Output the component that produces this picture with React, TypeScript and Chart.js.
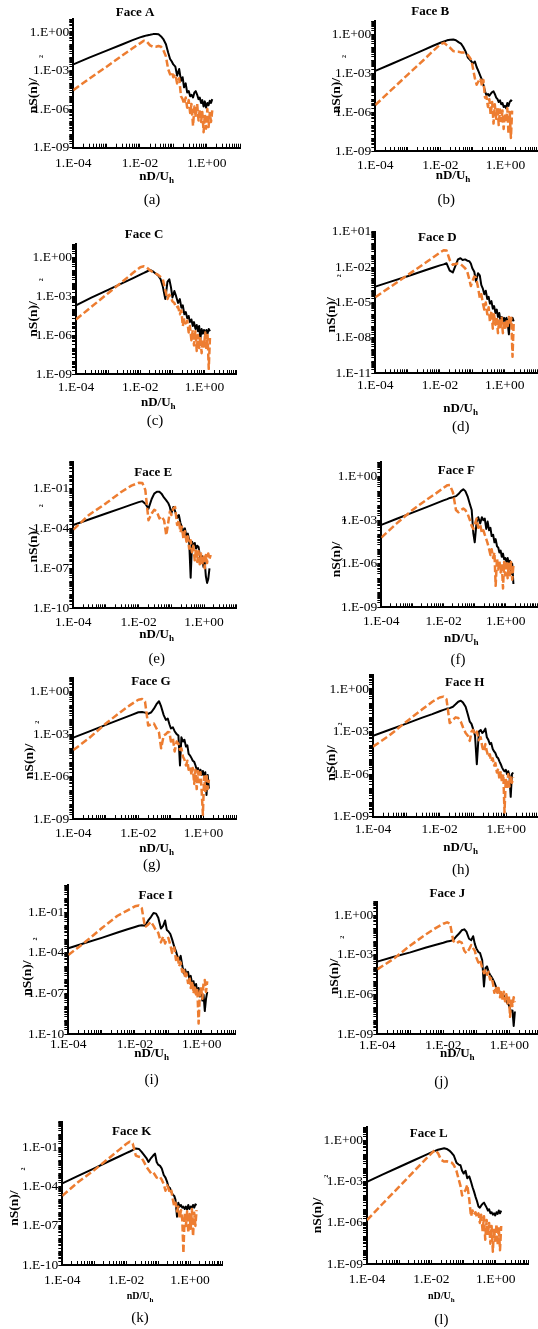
import React, { useEffect, useRef } from "react";
import { Chart, registerables } from "chart.js";

Chart.register(...registerables);

// Reduced frequency nD/Uh, shared by all twelve faces
const FREQ = [1e-4, 3e-4, 1e-3, 3e-3, 0.006, 0.01, 0.013, 0.016, 0.02, 0.025, 0.03, 0.036, 0.043, 0.05, 0.06, 0.07, 0.08, 0.09, 0.1, 0.115, 0.13, 0.15, 0.17, 0.19, 0.21, 0.235, 0.26, 0.29, 0.32, 0.35, 0.39, 0.43, 0.47, 0.52, 0.57, 0.62, 0.68, 0.74, 0.81, 0.88, 0.96, 1.05, 1.14, 1.24, 1.35, 1.47, 1.6, 1.75, 1.9];

// Normalised spectra nS(n)/sigma^2 : black solid and orange dashed series
const FACE_A_BLACK = [3e-3, 0.01, 0.035, 0.11, 0.23, 0.38, 0.47, 0.54, 0.6, 0.68, 0.69, 0.66, 0.45, 0.28, 0.11, 0.025, 8e-3, 5e-3, 3e-3, 2e-3, 4e-4, 1.3e-3, 1.6e-4, 3e-4, 5e-5, 1e-4, 2e-5, 2.5e-5, 1e-5, 1.3e-5, 8e-6, 2e-5, 2.5e-5, 1.3e-5, 6e-6, 8e-6, 3e-6, 5e-6, 1.6e-6, 4e-6, 1.3e-6, 3e-6, 2e-6, 4.5e-6, 3e-6, 6e-6];
const FACE_A_ORANGE = [3e-5, 2.3e-4, 2e-3, 0.0155, 0.054, 0.13, 0.21, 0.18, 0.09, 0.07, 0.07, 0.08, 0.07, 0.04, 0.0126, 1.3e-3, 5e-4, 8e-4, 3e-4, 5e-4, 1e-4, 2.5e-4, 1e-5, 6e-6, 2.5e-6, 8e-6, 1.3e-6, 5e-6, 5e-7, 2.5e-6, 5e-8, 1.6e-6, 2.5e-7, 2.5e-6, 1.3e-7, 1e-6, 1e-7, 6e-7, 1.6e-8, 4e-7, 3e-8, 1e-6, 4e-8, 5e-7, 1e-7, 8e-7];

const FACE_B_BLACK = [1.5e-3, 4.9e-3, 0.018, 0.06, 0.13, 0.22, 0.28, 0.34, 0.38, 0.4, 0.35, 0.25, 0.19, 0.11, 0.045, 0.016, 0.011, 8e-3, 5.6e-3, 8e-3, 3e-3, 1.3e-3, 6e-4, 3e-4, 1.3e-4, 4e-5, 2e-5, 2.5e-5, 1.8e-5, 2.5e-5, 3.5e-5, 4e-5, 2.5e-5, 1.3e-5, 1e-5, 6e-6, 8e-6, 4e-6, 5e-6, 2.5e-6, 3e-6, 2e-6, 5e-6, 3e-6, 6e-6, 8e-6, 7e-6];
const FACE_B_ORANGE = [3.5e-6, 4.7e-5, 7.8e-4, 0.01, 0.052, 0.17, 0.22, 0.14, 0.09, 0.05, 0.045, 0.045, 0.04, 0.04, 0.035, 0.025, 0.016, 0.01, 2.5e-3, 4e-4, 1.3e-4, 2.5e-4, 4e-4, 1e-4, 3e-4, 1.3e-5, 1.6e-5, 2.5e-6, 1e-5, 6e-7, 6e-6, 1.3e-7, 4e-6, 3e-7, 2.5e-6, 1e-7, 1.6e-6, 2e-7, 1.3e-6, 5e-8, 8e-7, 1.6e-7, 2e-6, 2e-8, 1e-6, 1e-8, 1.3e-6];

const FACE_C_BLACK = [2e-4, 7.6e-4, 3.1e-3, 0.011, 0.025, 0.046, 0.062, 0.08, 0.105, 0.08, 0.056, 0.04, 0.02, 6e-3, 6e-4, 0.0126, 0.02, 5e-3, 8e-4, 2.5e-3, 1e-3, 3e-4, 6e-4, 1.3e-4, 2e-4, 4e-5, 6e-5, 2e-5, 3e-5, 1e-5, 1.6e-5, 5e-6, 1e-5, 3e-6, 6e-6, 2e-6, 5e-6, 5e-7, 3e-6, 1.3e-6, 2.5e-6, 1e-6, 2.5e-6, 1.3e-6, 3e-6, 2e-6];
const FACE_C_ORANGE = [1.6e-5, 1.5e-4, 1.7e-3, 0.0155, 0.063, 0.17, 0.2, 0.16, 0.1, 0.07, 0.056, 0.044, 0.03, 0.022, 3e-3, 6e-4, 1.3e-3, 8e-4, 4e-4, 3e-4, 1.3e-4, 1.6e-4, 4e-5, 8e-5, 5e-6, 1.6e-5, 8e-6, 1.3e-5, 1.6e-6, 5e-6, 4e-7, 2.5e-6, 1.6e-7, 2e-6, 6e-8, 1e-6, 1e-7, 8e-7, 4e-8, 5e-7, 1.3e-7, 1.6e-6, 8e-8, 1e-6, 2.5e-9, 6e-7];

const FACE_D_BLACK = [2.2e-4, 5.9e-4, 1.7e-3, 4.7e-3, 8.7e-3, 0.014, 0.017, 0.021, 5e-3, 3.5e-3, 0.0126, 0.045, 0.056, 0.04, 0.045, 0.035, 0.032, 0.02, 8e-3, 4e-3, 6e-4, 3e-3, 2e-3, 3e-4, 1.6e-4, 5e-5, 1e-4, 2e-5, 3e-5, 8e-6, 1.3e-5, 3e-6, 5e-6, 1.3e-6, 2.5e-6, 6e-7, 1.3e-6, 3e-7, 6e-7, 2.5e-7, 5e-7, 2.5e-7, 5e-7, 2e-7, 2e-8, 4e-7, 3e-7, 5e-7, 2.5e-7];
const FACE_D_ORANGE = [2.8e-5, 2.2e-4, 2.1e-3, 0.017, 0.063, 0.17, 0.27, 0.25, 0.04, 0.016, 0.018, 0.02, 0.018, 0.0126, 8e-3, 4e-3, 1e-3, 2.5e-4, 6e-4, 1.6e-3, 1.3e-3, 2e-4, 2.5e-5, 5e-5, 1e-5, 2.5e-6, 1e-5, 1e-6, 4e-6, 2.5e-7, 2e-6, 6e-8, 1e-6, 1.3e-7, 6e-7, 2.5e-8, 4e-7, 6e-8, 5e-7, 2.5e-8, 3e-7, 5e-8, 2.5e-7, 1e-7, 6e-7, 1.3e-7, 5e-7, 2.5e-10, 1.6e-7];

const FACE_E_BLACK = [1.8e-4, 4.6e-4, 1.3e-3, 3.3e-3, 6e-3, 9.3e-3, 0.011, 7e-3, 3e-3, 0.016, 0.04, 0.056, 0.056, 0.04, 0.02, 0.0126, 8e-3, 4e-3, 1.3e-3, 4e-3, 2e-3, 6e-4, 1e-3, 2.5e-4, 1.3e-4, 6e-5, 1e-4, 2.5e-5, 4e-5, 1.3e-5, 2e-8, 1e-5, 5e-6, 8e-6, 3e-6, 5e-6, 4e-6, 1e-6, 4e-7, 8e-7, 1.3e-7, 3e-7, 2.5e-8, 8e-9, 1.6e-8, 1e-7];
const FACE_E_ORANGE = [8e-5, 1e-3, 7.5e-3, 0.056, 0.16, 0.26, 0.25, 0.075, 4e-4, 1.3e-3, 2.5e-3, 1.8e-3, 5.6e-4, 8e-4, 4e-4, 3e-5, 2.5e-4, 1.8e-3, 1e-3, 3e-3, 4e-3, 1.8e-4, 4e-4, 5e-5, 1.3e-4, 1.6e-5, 6e-5, 1e-5, 2.5e-5, 3e-6, 1.3e-5, 1.6e-6, 5e-6, 4e-7, 3e-6, 3e-7, 2e-6, 2e-7, 1.3e-6, 1.6e-7, 1e-6, 1e-7, 1e-6, 2.5e-7, 1.3e-6, 5e-7, 1e-6];

const FACE_F_BLACK = [4.7e-4, 1.2e-3, 3.3e-3, 8.3e-3, 0.015, 0.023, 0.028, 0.034, 0.038, 0.045, 0.063, 0.1, 0.135, 0.1, 0.04, 0.0126, 5e-3, 1.3e-4, 3e-5, 8e-4, 1.6e-3, 6e-4, 1.6e-3, 1e-3, 1.3e-3, 2.5e-4, 8e-4, 2e-4, 3e-4, 8e-5, 1e-4, 3e-5, 5e-5, 1.6e-5, 1.3e-5, 6e-6, 8e-6, 3e-6, 5e-6, 2e-6, 2.5e-6, 1.3e-6, 2.5e-6, 1e-6, 1.6e-6, 2e-7, 1e-6, 4e-8];
const FACE_F_ORANGE = [6.3e-5, 5.6e-4, 5e-3, 0.028, 0.076, 0.17, 0.25, 0.26, 0.08, 5e-3, 3.5e-3, 5e-3, 6.3e-3, 5e-3, 2.5e-3, 1e-3, 4e-4, 2.5e-4, 5e-4, 1.3e-3, 3e-4, 5e-4, 1.3e-4, 2e-4, 1e-4, 5e-5, 2.5e-5, 1e-5, 4e-6, 1e-5, 2.5e-6, 6e-6, 3e-8, 2.5e-6, 4e-7, 1.6e-6, 2.5e-7, 1e-6, 2e-8, 1.3e-6, 1.6e-7, 1.6e-6, 1e-7, 1e-6, 1.6e-7, 1.3e-6, 8e-8, 8e-7];

const FACE_G_BLACK = [5.6e-4, 1.5e-3, 4.5e-3, 0.012, 0.022, 0.035, 0.036, 0.033, 0.027, 0.035, 0.063, 0.13, 0.21, 0.09, 0.022, 0.01, 0.0126, 5e-3, 2.5e-3, 3e-3, 1.6e-3, 1e-3, 8e-4, 6e-6, 6e-4, 3e-4, 4e-4, 1.3e-4, 1.6e-4, 4e-5, 3e-5, 2e-5, 1.3e-5, 1.1e-5, 6e-6, 3e-6, 4e-6, 1.6e-6, 3e-6, 1.3e-6, 2.5e-6, 1e-6, 2e-6, 5e-8, 1.3e-6, 1.4e-7];
const FACE_G_ORANGE = [7.4e-5, 5e-4, 5.6e-3, 0.04, 0.126, 0.27, 0.3, 0.2, 4e-3, 5e-3, 5.6e-3, 2.5e-3, 1.3e-3, 1e-4, 8e-4, 1e-3, 1.4e-3, 1.3e-3, 3e-4, 5e-4, 6e-5, 3e-4, 2e-4, 8e-5, 1e-4, 2.5e-5, 1.6e-5, 6e-6, 1.3e-5, 3e-6, 5e-6, 1.3e-6, 4e-6, 3e-7, 3e-6, 1.3e-7, 2.5e-6, 4e-7, 2e-6, 1e-7, 2e-9, 1e-6, 8e-8, 1.6e-6, 1.3e-7, 6e-7];

const FACE_H_BLACK = [5e-4, 1.3e-3, 3.6e-3, 9.5e-3, 0.017, 0.027, 0.034, 0.04, 0.045, 0.056, 0.083, 0.126, 0.15, 0.11, 0.056, 0.016, 5e-3, 3.5e-3, 1.6e-3, 5e-4, 5e-6, 1e-3, 1.3e-3, 8e-4, 1e-3, 1.6e-3, 4e-4, 2.5e-4, 1.3e-4, 1.6e-4, 6e-5, 4e-5, 3e-5, 1.6e-5, 1.3e-5, 8e-6, 5e-6, 3e-6, 2e-6, 1.6e-6, 2e-6, 1e-6, 1.6e-6, 8e-7, 2.5e-8, 1e-6, 1.3e-6];
const FACE_H_ORANGE = [8.7e-5, 5e-4, 5e-3, 0.037, 0.126, 0.25, 0.29, 0.19, 4e-3, 6.6e-3, 0.01, 9e-3, 5e-3, 2e-3, 8e-4, 5e-4, 2.2e-4, 1e-3, 1.3e-3, 6e-4, 1e-3, 2.5e-4, 4e-4, 8e-5, 4e-5, 1.3e-4, 4e-5, 1.6e-5, 2.5e-5, 8e-6, 1.3e-5, 4e-6, 6e-6, 1.3e-6, 2.5e-6, 4e-7, 1.6e-6, 2.5e-7, 1e-6, 2e-9, 5e-7, 1e-7, 1e-6, 1.3e-7, 8e-7, 2.5e-7, 6e-7];

const FACE_I_BLACK = [2.2e-4, 5.2e-4, 1.3e-3, 3.2e-3, 5.6e-3, 8.3e-3, 0.0102, 0.011, 0.01, 0.025, 0.045, 0.09, 0.08, 0.04, 6.3e-3, 0.01, 0.025, 5e-3, 4e-3, 2.5e-3, 1e-3, 3e-4, 1.3e-4, 5e-5, 3e-5, 6e-5, 1.3e-5, 3e-6, 6e-6, 2.5e-6, 4e-6, 1e-6, 2e-6, 5e-7, 8e-7, 2e-7, 5e-7, 1e-7, 2.5e-7, 6e-8, 1.3e-7, 3e-8, 8e-8, 5e-9, 4e-8, 1.3e-7];
const FACE_I_ORANGE = [7e-5, 5.6e-4, 6.6e-3, 0.056, 0.14, 0.28, 0.32, 0.2, 8e-3, 0.0126, 0.02, 0.01, 4.5e-3, 3e-3, 6e-4, 1.6e-3, 5e-4, 1e-3, 1.3e-3, 4e-4, 1e-4, 2.5e-4, 3e-5, 6e-5, 1e-5, 2e-5, 4e-6, 8e-6, 1.3e-6, 3e-6, 6e-7, 1.6e-6, 2.5e-7, 8e-7, 1e-7, 4e-7, 6e-8, 2.5e-7, 6e-10, 1e-7, 3e-7, 4e-8, 6e-7, 1e-6, 1.3e-7, 8e-7];

const FACE_J_BLACK = [3e-4, 6.6e-4, 1.5e-3, 3.5e-3, 5.6e-3, 8e-3, 9.8e-3, 0.011, 0.0126, 0.025, 0.04, 0.07, 0.083, 0.056, 0.016, 0.0126, 0.025, 6.3e-3, 3e-3, 1.6e-3, 1.3e-3, 4e-4, 4e-6, 1e-4, 1.3e-4, 5e-5, 3e-5, 2e-5, 1.3e-5, 8e-6, 4e-6, 2e-6, 2.5e-6, 1.3e-6, 1e-6, 6e-7, 8e-7, 4e-7, 3e-7, 2e-7, 1.6e-7, 8e-8, 5e-8, 6e-8, 4e-9, 5e-8];
const FACE_J_ORANGE = [7.8e-5, 4.5e-4, 5e-3, 0.035, 0.107, 0.22, 0.28, 0.22, 0.011, 7e-3, 0.01, 8e-3, 2e-3, 1.3e-3, 2.5e-3, 5.4e-3, 3e-3, 2e-3, 6e-4, 2.5e-4, 4e-4, 1e-4, 4e-5, 8e-5, 3e-5, 5e-5, 1.3e-5, 2e-5, 6e-6, 1.3e-6, 4e-6, 1.3e-6, 3e-6, 6e-7, 2e-6, 4e-7, 1.6e-6, 3e-7, 1e-6, 2e-7, 8e-7, 2e-8, 5e-7, 1.3e-7, 6e-7, 2.5e-7];

const FACE_K_BLACK = [1.8e-4, 6.6e-4, 2.6e-3, 9.5e-3, 0.021, 0.038, 0.051, 0.066, 0.087, 0.08, 0.05, 0.028, 0.016, 8e-3, 0.016, 0.025, 0.035, 8e-3, 5e-3, 4e-3, 2.5e-3, 8e-4, 5e-4, 2.5e-4, 1e-4, 8e-5, 4e-5, 2.5e-5, 2e-5, 1e-5, 5e-7, 6e-6, 3e-6, 4e-6, 2.5e-6, 3e-6, 2e-6, 3e-6, 1.8e-6, 4e-6, 2e-6, 3e-6, 2.5e-6, 4e-6, 2.5e-6, 4.5e-6, 4e-6];
const FACE_K_ORANGE = [2e-5, 2.1e-4, 1.9e-3, 0.017, 0.068, 0.19, 0.29, 0.21, 0.025, 0.02, 0.018, 8e-3, 3.5e-3, 2e-3, 1.1e-3, 1.3e-3, 8e-4, 5e-4, 4.5e-4, 5.6e-4, 3.5e-4, 1.6e-4, 5e-5, 1.3e-4, 8e-5, 3e-5, 5e-5, 1e-5, 3e-6, 6e-6, 1.3e-6, 3e-6, 4e-7, 1.6e-6, 3e-7, 8e-10, 1e-6, 1e-7, 1.3e-6, 3e-8, 8e-7, 6e-8, 2e-6, 1.6e-8, 1e-6, 1e-7, 1.6e-6];

const FACE_L_BLACK = [1e-3, 3.3e-3, 0.012, 0.039, 0.081, 0.14, 0.18, 0.22, 0.25, 0.28, 0.25, 0.19, 0.126, 0.08, 0.025, 0.018, 0.016, 6.3e-3, 4e-3, 6.3e-3, 1.8e-3, 2.5e-3, 1e-3, 4e-4, 2e-4, 8e-5, 4e-5, 1.6e-5, 1.3e-5, 1.8e-5, 2.5e-5, 3e-5, 2e-5, 1.3e-5, 8e-6, 1e-5, 5e-6, 6e-6, 4e-6, 5e-6, 3.5e-6, 6e-6, 4.5e-6, 8e-6, 5e-6, 8e-6];
const FACE_L_ORANGE = [1.6e-6, 2.4e-5, 4.4e-4, 6.5e-3, 0.035, 0.12, 0.21, 0.126, 0.04, 0.03, 0.032, 0.03, 0.025, 0.016, 6.3e-3, 1.6e-3, 5e-4, 1e-4, 1.6e-4, 2.5e-4, 6e-4, 5e-5, 3e-6, 8e-6, 4e-6, 6e-6, 2.5e-6, 5e-6, 1e-6, 4e-6, 2.5e-7, 3e-6, 6e-8, 1.6e-6, 1.3e-7, 1e-6, 3e-8, 6e-7, 8e-9, 4e-7, 5e-8, 8e-7, 2.5e-8, 5e-7, 1e-8, 6e-7];

const X_TICK_LABELS = ["1.E-04", "1.E-02", "1.E+00"];
const Y_TICK_LABELS_9 = ["1.E+00", "1.E-03", "1.E-06", "1.E-09"];
const Y_TICK_LABELS_10 = ["1.E-01", "1.E-04", "1.E-07", "1.E-10"];
const Y_TICK_LABELS_11 = ["1.E+01", "1.E-02", "1.E-05", "1.E-08", "1.E-11"];
const X_MIN = 1e-4;
const X_MAX = 10;
const Y_MAX = 10;

const FONT = "'Liberation Serif', 'Times New Roman', Times, serif";
const ORANGE = "#ED7D31";

type PanelCfg = {
  face: string;
  caption: string;
  black: number[];
  orange: number[];
  yMin: number;
  yLabels: string[];
  colX: number;
  area: [number, number, number, number];
  titleAt: [number, number];
  yTitleAt: [number, number];
  xTitleAt: [number, number];
  captionAt: [number, number];
  xTickGap: number;
  xTitleSize: number;
};

const PANELS: PanelCfg[] = [
  { face: "A", caption: "(a)", black: FACE_A_BLACK, orange: FACE_A_ORANGE, yMin: 1e-9, yLabels: Y_TICK_LABELS_9, colX: 0, area: [73.3, 19.1, 240, 147.7], titleAt: [135, 12.3], yTitleAt: [33.3, 84.2], xTitleAt: [156.7, 176.7], captionAt: [152, 200], xTickGap: 15.7, xTitleSize: 13 },
  { face: "B", caption: "(b)", black: FACE_B_BLACK, orange: FACE_B_ORANGE, yMin: 1e-9, yLabels: Y_TICK_LABELS_9, colX: 268, area: [375.3, 21.3, 538, 151], titleAt: [430.3, 11.7], yTitleAt: [336.3, 84.2], xTitleAt: [453, 175.7], captionAt: [446.3, 200], xTickGap: 14.7, xTitleSize: 13 },
  { face: "C", caption: "(c)", black: FACE_C_BLACK, orange: FACE_C_ORANGE, yMin: 1e-9, yLabels: Y_TICK_LABELS_9, colX: 0, area: [76, 244.3, 236.7, 374], titleAt: [144, 235], yTitleAt: [33.3, 307.5], xTitleAt: [158.3, 402.7], captionAt: [155, 420.7], xTickGap: 13.7, xTitleSize: 13 },
  { face: "D", caption: "(d)", black: FACE_D_BLACK, orange: FACE_D_ORANGE, yMin: 1e-11, yLabels: Y_TICK_LABELS_11, colX: 268, area: [375.3, 231.7, 537, 373.3], titleAt: [437.3, 237.3], yTitleAt: [331.3, 303.3], xTitleAt: [460.7, 408.3], captionAt: [460.7, 427.3], xTickGap: 12.3, xTitleSize: 13 },
  { face: "E", caption: "(e)", black: FACE_E_BLACK, orange: FACE_E_ORANGE, yMin: 1e-10, yLabels: Y_TICK_LABELS_10, colX: 0, area: [73.3, 461.7, 236.7, 608.3], titleAt: [153.3, 472.3], yTitleAt: [33.3, 533.3], xTitleAt: [156.7, 635], captionAt: [156.7, 659.3], xTickGap: 14.3, xTitleSize: 13 },
  { face: "F", caption: "(f)", black: FACE_F_BLACK, orange: FACE_F_ORANGE, yMin: 1e-9, yLabels: Y_TICK_LABELS_9, colX: 268, area: [381.3, 462.1, 537, 607.3], titleAt: [456.3, 470.7], yTitleAt: [336.3, 548], xTitleAt: [461.3, 638.3], captionAt: [458, 660], xTickGap: 14.3, xTitleSize: 13 },
  { face: "G", caption: "(g)", black: FACE_G_BLACK, orange: FACE_G_ORANGE, yMin: 1e-9, yLabels: Y_TICK_LABELS_9, colX: 0, area: [73.3, 677.5, 236, 819], titleAt: [151, 681.7], yTitleAt: [29.3, 750], xTitleAt: [156.7, 848.3], captionAt: [151.7, 865], xTickGap: 14.3, xTitleSize: 13 },
  { face: "H", caption: "(h)", black: FACE_H_BLACK, orange: FACE_H_ORANGE, yMin: 1e-9, yLabels: Y_TICK_LABELS_9, colX: 268, area: [373, 674.8, 539.7, 816.7], titleAt: [464.7, 682.3], yTitleAt: [332, 751.7], xTitleAt: [460.7, 847.7], captionAt: [460.7, 870], xTickGap: 12.7, xTitleSize: 13 },
  { face: "I", caption: "(i)", black: FACE_I_BLACK, orange: FACE_I_ORANGE, yMin: 1e-10, yLabels: Y_TICK_LABELS_10, colX: 0, area: [68.3, 885.3, 235, 1034], titleAt: [155.7, 895.7], yTitleAt: [27.3, 966.7], xTitleAt: [151.7, 1053.3], captionAt: [151.7, 1080], xTickGap: 10.3, xTitleSize: 13 },
  { face: "J", caption: "(j)", black: FACE_J_BLACK, orange: FACE_J_ORANGE, yMin: 1e-9, yLabels: Y_TICK_LABELS_9, colX: 268, area: [377.3, 901.8, 544, 1034], titleAt: [447.3, 893.3], yTitleAt: [334.7, 965], xTitleAt: [457.3, 1053.3], captionAt: [441.3, 1081.7], xTickGap: 11.7, xTitleSize: 13 },
  { face: "K", caption: "(k)", black: FACE_K_BLACK, orange: FACE_K_ORANGE, yMin: 1e-10, yLabels: Y_TICK_LABELS_10, colX: 0, area: [62.3, 1121.6, 222, 1265], titleAt: [131.7, 1131.7], yTitleAt: [15, 1196.7], xTitleAt: [140, 1296.7], captionAt: [140, 1318.3], xTickGap: 15, xTitleSize: 10 },
  { face: "L", caption: "(l)", black: FACE_L_BLACK, orange: FACE_L_ORANGE, yMin: 1e-9, yLabels: Y_TICK_LABELS_9, colX: 268, area: [367, 1127, 528, 1264], titleAt: [428.7, 1134], yTitleAt: [318, 1204], xTitleAt: [441.3, 1296.7], captionAt: [441.3, 1320], xTickGap: 15, xTitleSize: 10 },
];

function logTickValues(min: number, max: number): number[] {
  const out: number[] = [];
  const e0 = Math.round(Math.log10(min));
  const e1 = Math.round(Math.log10(max));
  for (let e = e0; e < e1; e++) {
    for (let k = 1; k < 10; k++) out.push(Number((k * Math.pow(10, e)).toPrecision(6)));
  }
  out.push(max);
  return out;
}

function labelFor(labels: string[], v: number): string {
  const hit = labels.find((l) => Math.abs(Number(l) / v - 1) < 1e-6);
  return hit ?? "";
}

function geom(p: PanelCfg) {
  const cl = p.colX;
  const ct = Math.round(Math.min(p.area[1] - 22, p.titleAt[1] - 10));
  const cw = p.colX === 0 ? 262 : 282;
  const ch = Math.ceil(p.captionAt[1] + 12 - ct);
  return { cl, ct, cw, ch };
}

function makeTextPlugin(p: PanelCfg, cl: number, ct: number) {
  return {
    id: "faceText" + p.face,
    afterDraw(chart: any) {
      const ctx: CanvasRenderingContext2D = chart.ctx;
      ctx.save();
      ctx.fillStyle = "#000";
      ctx.textAlign = "center";
      ctx.textBaseline = "middle";
      ctx.font = `bold 13px ${FONT}`;
      ctx.fillText("Face " + p.face, p.titleAt[0] - cl, p.titleAt[1] - ct);
      ctx.font = `15px ${FONT}`;
      ctx.fillText(p.caption, p.captionAt[0] - cl, p.captionAt[1] - ct);
      const xs = p.xTitleSize;
      ctx.font = `bold ${xs}px ${FONT}`;
      const w1 = ctx.measureText("nD/U").width;
      ctx.font = `bold ${xs * 0.7}px ${FONT}`;
      const w2 = ctx.measureText("h").width;
      const x0 = p.xTitleAt[0] - cl - (w1 + w2) / 2;
      const y0 = p.xTitleAt[1] - ct;
      ctx.textAlign = "left";
      ctx.font = `bold ${xs}px ${FONT}`;
      ctx.fillText("nD/U", x0, y0);
      ctx.font = `bold ${xs * 0.7}px ${FONT}`;
      ctx.fillText("h", x0 + w1, y0 + xs * 0.3);
      ctx.translate(p.yTitleAt[0] - cl, p.yTitleAt[1] - ct);
      ctx.rotate(-Math.PI / 2);
      ctx.font = `bold 13.5px ${FONT}`;
      const wm = ctx.measureText("nS(n)/").width;
      ctx.font = `bold 6px ${FONT}`;
      const w3 = ctx.measureText("2").width;
      const gap = 20;
      const total = wm + gap + w3;
      ctx.font = `bold 13.5px ${FONT}`;
      ctx.fillText("nS(n)/", -total / 2, 0);
      ctx.font = `bold 6px ${FONT}`;
      ctx.fillText("2", -total / 2 + wm + gap, 8);
      ctx.restore();
    },
  };
}

function FacePanel({ p }: { p: PanelCfg }) {
  const ref = useRef<HTMLCanvasElement | null>(null);
  const g = geom(p);
  useEffect(() => {
    const canvas = ref.current;
    if (!canvas) return;
    const { cl, ct, cw, ch } = geom(p);
    const xTicks = logTickValues(X_MIN, X_MAX);
    const yTicks = logTickValues(p.yMin, Y_MAX);
    const pts = (ys: number[]) => ys.map((y, i) => ({ x: FREQ[i], y }));
    const chart = new Chart(canvas, {
      type: "line",
      data: {
        datasets: [
          { label: "orange", data: pts(p.orange), borderColor: ORANGE, backgroundColor: ORANGE, borderWidth: 2.5, borderDash: [7, 3], pointRadius: 0, tension: 0, fill: false, borderJoinStyle: "round" },
          { label: "black", data: pts(p.black), borderColor: "#000", backgroundColor: "#000", borderWidth: 2, pointRadius: 0, tension: 0, fill: false, borderJoinStyle: "round" },
        ],
      } as any,
      options: {
        responsive: false,
        animation: false,
        devicePixelRatio: 1,
        events: [],
        layout: { padding: { left: 0, top: p.area[1] - ct, right: cl + cw - p.area[2], bottom: 0 } },
        plugins: { legend: { display: false }, title: { display: false }, tooltip: { enabled: false } },
        scales: {
          x: {
            type: "logarithmic",
            position: "bottom",
            min: X_MIN,
            max: X_MAX,
            afterBuildTicks: (s: any) => { s.ticks = xTicks.map((v) => ({ value: v })); },
            afterFit: (s: any) => { s.height = ct + ch - p.area[3]; },
            ticks: { autoSkip: false, maxRotation: 0, minRotation: 0, padding: p.xTickGap - 4.1, color: "#000", font: { family: FONT, size: 13.5 }, callback: (v: any) => labelFor(X_TICK_LABELS, Number(v)) },
            grid: { display: true, drawOnChartArea: false, drawTicks: true, tickLength: -4, color: "#000", lineWidth: 1 },
            border: { display: true, color: "#000", width: 2 },
          },
          y: {
            type: "logarithmic",
            position: "left",
            min: p.yMin,
            max: Y_MAX,
            afterBuildTicks: (s: any) => { s.ticks = yTicks.map((v) => ({ value: v })); },
            afterFit: (s: any) => { s.width = p.area[0] - cl; },
            ticks: { autoSkip: false, padding: 0, color: "#000", font: { family: FONT, size: 13.5 }, callback: (v: any) => labelFor(p.yLabels, Number(v)) },
            grid: { display: true, drawOnChartArea: false, drawTicks: true, tickLength: 4, color: "#000", lineWidth: 1 },
            border: { display: true, color: "#000", width: 2 },
          },
        },
      } as any,
      plugins: [makeTextPlugin(p, cl, ct)],
    });
    return () => chart.destroy();
  }, [p]);
  return (
    <canvas
      ref={ref}
      width={g.cw}
      height={g.ch}
      style={{ position: "absolute", left: g.cl, top: g.ct, width: g.cw, height: g.ch }}
    />
  );
}

export default function App() {
  return (
    <div style={{ position: "absolute", left: 0, top: 0, width: 538, height: 1329, overflow: "hidden", background: "#fff" }}>
      {PANELS.map((p) => (
        <FacePanel key={p.face} p={p} />
      ))}
    </div>
  );
}
